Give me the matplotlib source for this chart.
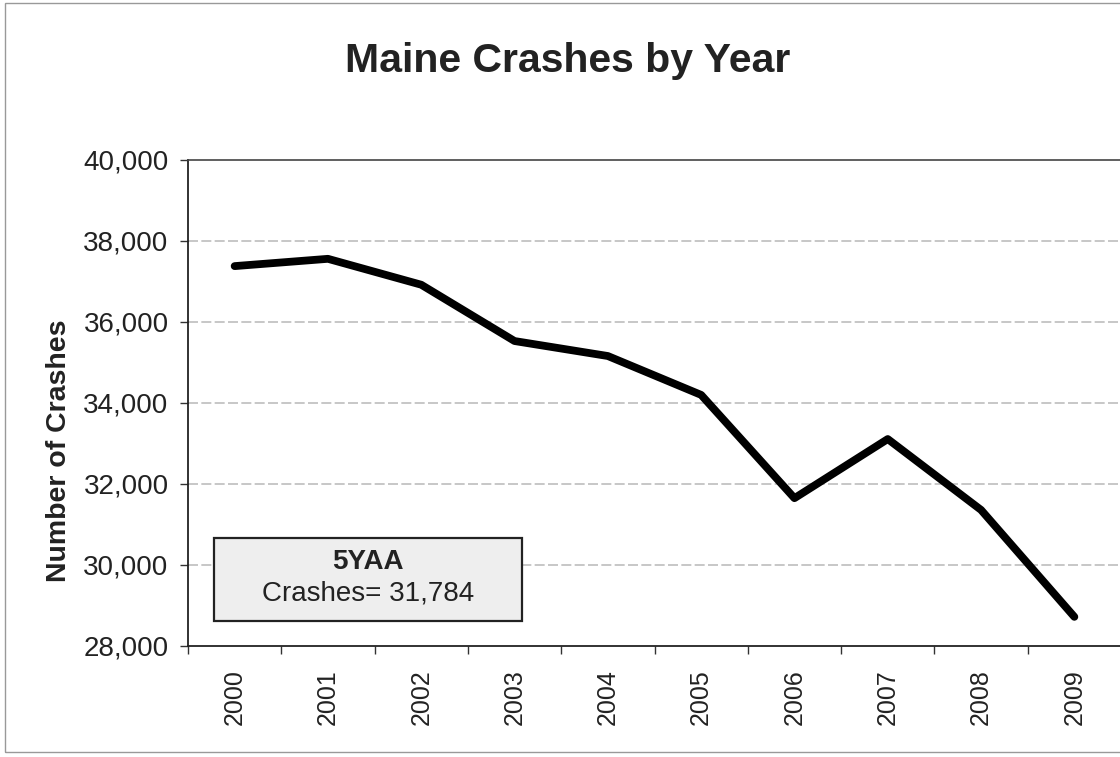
import matplotlib
matplotlib.use("Agg")
import matplotlib.pyplot as plt
from matplotlib.patches import Rectangle

years = ["2000", "2001", "2002", "2003", "2004", "2005", "2006", "2007", "2008", "2009"]
crashes = [37380, 37560, 36920, 35530, 35160, 34200, 31650, 33110, 31360, 28720]
yticks = [28000, 30000, 32000, 34000, 36000, 38000, 40000]
title = "Maine Crashes by Year"
ylabel = "Number of Crashes"
box_title = "5YAA"
box_text = "Crashes= 31,784"

plt.rcParams['font.family'] = ['Liberation Sans', 'DejaVu Sans']

W, H = 1120, 757
fig = plt.figure(figsize=(W/100, H/100), dpi=100)
L, R, T, B = 188, 1121, 160, 646
ax = fig.add_axes([L/W, 1 - B/H, (R-L)/W, (B-T)/H])

x = list(range(len(years)))
ax.plot(x, crashes, color='black', lw=5.6, solid_capstyle='round', solid_joinstyle='round', zorder=3)

ax.set_xlim(-0.5, len(years) - 0.5)
ax.set_ylim(28000, 40000)
ax.set_yticks(yticks)
ax.set_yticklabels([f"{v:,}" for v in yticks], fontsize=20, color='#222222')
ax.set_xticks([i - 0.5 for i in range(len(years) + 1)])
ax.set_xticklabels([])
ax.set_xticks(x, minor=True)
ax.set_xticklabels(years, minor=True, rotation=90, fontsize=18, color='#222222')
ax.tick_params(axis='x', which='major', length=6, width=1, direction='out', color='#333333')
ax.tick_params(axis='x', which='minor', length=0, pad=17)
ax.tick_params(axis='y', length=6, width=1, direction='out', color='#333333', pad=8)

for v in yticks[1:-1]:
    ax.axhline(v, color='#bdbdbd', lw=1.2, ls=(0, (6, 2)), zorder=1)

ax.spines['right'].set_visible(False)
ax.spines['top'].set_color('#444444')
ax.spines['top'].set_linewidth(1.2)
ax.spines['left'].set_color('#222222')
ax.spines['bottom'].set_color('#222222')
ax.spines['left'].set_linewidth(1.3)
ax.spines['bottom'].set_linewidth(1.3)

ax.set_ylabel(ylabel, fontsize=20.5, fontweight='bold', color='#222222')
ax.yaxis.set_label_coords((72 - L)/(R-L), (B - 451)/(B-T))

fig.text(568/W, 1 - 61/H, title, ha='center', va='center', fontsize=29.5, fontweight='bold', color='#222222')

bx0, bx1, by0, by1 = 214, 522, 538, 621
ax.add_patch(Rectangle(((bx0-L)/(R-L), (B-by1)/(B-T)), (bx1-bx0)/(R-L), (by1-by0)/(B-T),
                       transform=ax.transAxes, facecolor='#eeeeee', edgecolor='#222222', lw=1.6, zorder=4))
cx = ((bx0+bx1)/2 - L)/(R-L)
ax.text(cx, (B-562)/(B-T), box_title, transform=ax.transAxes, ha='center', va='center',
        fontsize=20, fontweight='bold', color='#222222', zorder=5)
ax.text(cx, (B-594)/(B-T), box_text, transform=ax.transAxes, ha='center', va='center',
        fontsize=20, color='#222222', zorder=5)

fig.add_artist(Rectangle((5/W, 1 - 752/H), 1.2, (752-3)/H, transform=fig.transFigure,
                         fill=False, edgecolor='#999999', lw=1))

fig.savefig("out.png", dpi=100)
